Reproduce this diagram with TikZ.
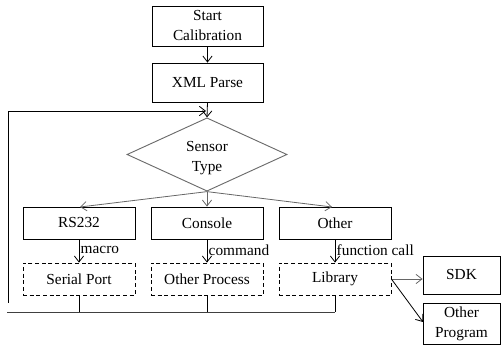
\documentclass[tikz,border=0pt]{standalone}
\usepackage{fontspec}
\setmainfont{Liberation Serif}
\usetikzlibrary{shapes.geometric,arrows.meta}
\begin{document}
\begin{tikzpicture}[x=0.75pt,y=-0.75pt,
  font=\fontsize{11.5}{15}\selectfont,
  box/.style={draw,line width=0.6pt,inner sep=0pt,align=center},
  dbox/.style={box,dashed,dash pattern=on 3pt off 2pt},
  arr/.style={-{Straight Barb[length=4.5pt,width=7pt,line width=0.6pt]},line width=0.6pt},
  ln/.style={line width=0.6pt},
  lbl/.style={anchor=west,inner sep=1pt}]
\useasboundingbox (0,0) rectangle (501,345);
\node[box,minimum width=83.25pt,minimum height=30pt] (start) at (207.5,26) {Start\\Calibration};
\node[box,minimum width=83.25pt,minimum height=29.25pt] (xml) at (207.5,82.5) {XML Parse};
\node[draw=black!58,line width=0.7pt,diamond,minimum width=120pt,minimum height=55pt,inner sep=0pt] (st) at (207,154.5) {};
\node[align=center,inner sep=0pt] (stt) at ([yshift=-2.5pt]st.center) {Sensor\\Type};
\node[box,minimum width=84pt,minimum height=24pt] (rs) at (79,223) {RS232};
\node[box,minimum width=84pt,minimum height=24pt] (con) at (207,223) {Console};
\node[box,minimum width=84pt,minimum height=24pt] (oth) at (335,223) {Other};
\node[dbox,minimum width=84pt,minimum height=24pt] (sp) at (79,279) {Serial Port};
\node[dbox,minimum width=84pt,minimum height=24pt] (op) at (207,279) {Other Process};
\node[dbox,minimum width=84pt,minimum height=24pt] (lib) at (335,279) {Library};
\node[box,minimum width=57.75pt,minimum height=28.5pt] (sdk) at (461.5,275) {SDK};
\node[box,minimum width=57.75pt,minimum height=30.75pt] (opg) at (461.5,323.5) {Other\\Program};
\coordinate (fb) at (8,303);
\coordinate (fbc) at (8,111);
\coordinate (fbe) at (206,111);
\coordinate (bl) at (7,312);
\coordinate (br) at (335,312);
\draw[arr] (start.south) -- (xml.south |- start.south) -- (xml.north);
\draw[arr] (xml.south) -- (st.north);
\draw[arr] (fb) -- (fbc) -- (fbe);
\draw[arr,draw=black!60] (st.south) -- (80,207);
\draw[arr,draw=black!60] (st.south) -- (con.north);
\draw[arr,draw=black!60] (st.south) -- (332,207);
\draw[arr] (rs.south) -- node[lbl,pos=0.45]{macro} (sp.north);
\draw[arr] (con.south) -- node[lbl,pos=0.45]{command} (op.north);
\draw[arr] (oth.south) -- node[lbl,pos=0.45]{function call} (lib.north);
\draw[ln,draw=black!75] (bl) -- (br);
\draw[ln] (sp.south) -- (sp.south |- bl);
\draw[ln] (op.south) -- (op.south |- bl);
\draw[ln] (lib.south) -- (br);
\draw[arr,draw=black!60] (lib.east) -- (sdk.west |- lib.east);
\draw[arr] (lib.east) -- (423,322);
\end{tikzpicture}
\end{document}
